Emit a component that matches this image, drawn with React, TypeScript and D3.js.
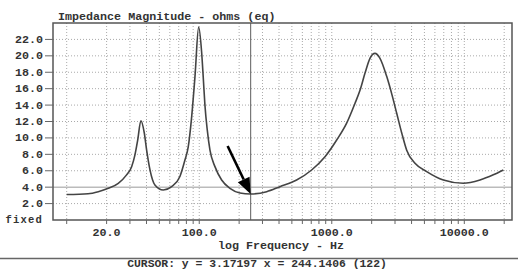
import React from 'react';
import * as d3 from 'd3';

// impedance curve (Hz, ohms)
const freqs = [
  10, 14.5, 17.3, 20.6, 24.5, 28.3, 30.9, 32.7, 34.3, 36.3, 38.5, 40.1, 42.5, 46.3,
  53.5, 61.9, 71.5, 78, 82.6, 87.7, 92.9, 99, 104.3, 107.2, 110.4, 114.9, 120.5,
  131.4, 147.6, 170.5, 202.8, 244.1, 322.7, 406, 543, 705, 889, 1089, 1295, 1496,
  1633, 1782, 1942, 2118, 2311, 2596, 2831, 3090, 3372, 3676, 4246, 5200, 6950,
  9820, 13130, 16550, 19700,
];
const ohms = [
  3.1, 3.2, 3.45, 3.86, 4.47, 5.5, 6.5, 7.9, 9.7, 12.1, 10.6, 8.5, 6.1, 4.26,
  3.65, 4.06, 5.3, 7.3, 8.9, 12.6, 17.5, 23.5, 20.4, 17.4, 14.0, 11.0, 8.5,
  6.5, 4.87, 3.86, 3.3, 3.17, 3.45, 4.06, 4.87, 6.09, 7.7, 9.74, 11.8, 14.2,
  15.8, 17.9, 19.7, 20.3, 19.7, 17.5, 15.4, 13.0, 10.6, 8.5, 6.9, 5.9, 4.87,
  4.47, 4.87, 5.5, 6.09,
];

const yTicks = [2, 4, 6, 8, 10, 12, 14, 16, 18, 20, 22];
const xLabels = [20, 100, 1000, 10000];
const xGrid = [
  10, 20, 30, 40, 50, 60, 70, 80, 90, 100, 200, 300, 400, 500, 600, 700, 800, 900,
  1000, 2000, 3000, 4000, 5000, 6000, 7000, 8000, 9000, 10000, 20000,
];
const cursorX = 244.1406;
const cursorY = 3.17197;
const title = 'Impedance Magnitude - ohms (eq)';
const xTitle = 'log Frequency - Hz';
const cursorText = `CURSOR: y = ${cursorY} x = ${cursorX} (122)`;

const W = 518;
const H = 271;
const frame = { left: 53, right: 512, top: 23, bottom: 220 };
const font = "'Liberation Mono', 'DejaVu Sans Mono', monospace";

export default function App() {
  const x = d3.scaleLog().domain([10, 20000]).range([66.7, 504.2]);
  const y = d3.scaleLinear().domain([0, 24]).range([frame.bottom, frame.top]);

  const pts = freqs.map((f, i) => [f, ohms[i]] as [number, number]);
  const line = d3
    .line<[number, number]>()
    .x((d) => x(d[0]))
    .y((d) => y(d[1]))
    .curve(d3.curveMonotoneX);

  // arrow pointing at the cursor point
  const tipX = x(cursorX);
  const tipY = y(cursorY);
  const startX = tipX - 23;
  const startY = tipY - 48;
  const ang = Math.atan2(tipY - startY, tipX - startX);
  const headLen = 16;
  const headW = 6.5;
  const bx = tipX - headLen * Math.cos(ang);
  const by = tipY - headLen * Math.sin(ang);
  const px = -Math.sin(ang) * headW;
  const py = Math.cos(ang) * headW;

  return (
    <svg
      width={W}
      height={H}
      style={{ position: 'absolute', left: 0, top: 0, background: '#fff' }}
    >
      {/* grid */}
      {xGrid.map((f) => (
        <line
          key={'gx' + f}
          x1={x(f)}
          x2={x(f)}
          y1={frame.top}
          y2={frame.bottom}
          stroke="#aaa"
          strokeDasharray="1,2"
        />
      ))}
      {yTicks.map((v) => (
        <line
          key={'gy' + v}
          x1={frame.left}
          x2={frame.right}
          y1={y(v)}
          y2={y(v)}
          stroke={v === 4 ? '#bbb' : '#aaa'}
          strokeWidth={v === 4 ? 1.5 : 1}
          strokeDasharray={v === 4 ? undefined : '1,2'}
        />
      ))}

      {/* cursor line */}
      <line x1={tipX} x2={tipX} y1={frame.top} y2={frame.bottom} stroke="#777" strokeWidth={1.2} />

      {/* frame */}
      <rect
        x={frame.left}
        y={frame.top}
        width={frame.right - frame.left}
        height={frame.bottom - frame.top}
        fill="none"
        stroke="#555"
        strokeWidth={1.5}
      />

      {/* ticks */}
      {xGrid.map((f) => (
        <line key={'tx' + f} x1={x(f)} x2={x(f)} y1={frame.bottom} y2={frame.bottom + 4} stroke="#666" />
      ))}
      {yTicks.map((v) => (
        <line key={'ty' + v} x1={frame.left - 8} x2={frame.left} y1={y(v)} y2={y(v)} stroke="#666" />
      ))}

      {/* curve */}
      <path d={line(pts) || ''} fill="none" stroke="#444" strokeWidth={1.6} />

      {/* arrow */}
      <line x1={startX} y1={startY} x2={bx} y2={by} stroke="#000" strokeWidth={2.6} />
      <path d={`M${tipX},${tipY}L${bx + px},${by + py}L${bx - px},${by - py}Z`} fill="#000" />

      {/* labels */}
      <g fontFamily={font} fontWeight="bold" fontSize={11.7} fill="#333">
        <text x={58} y={20}>{title}</text>
        {yTicks.map((v) => (
          <text key={'ly' + v} x={43} y={y(v) + 3.5} textAnchor="end">
            {v.toFixed(1)}
          </text>
        ))}
        <text x={43} y={frame.bottom + 3} textAnchor="end" letterSpacing={1.2} fontSize={10.5}>
          fixed
        </text>
        {xLabels.map((f) => (
          <text key={'lx' + f} x={x(f)} y={235.5} textAnchor="middle">
            {f.toFixed(1)}
          </text>
        ))}
        <text x={281} y={248.5} textAnchor="middle">{xTitle}</text>
        <text x={257} y={266.5} textAnchor="middle" fontSize={11.4}>{cursorText}</text>
      </g>
      <line x1={0} x2={W} y1={258.5} y2={258.5} stroke="#666" strokeWidth={1.5} />
    </svg>
  );
}
